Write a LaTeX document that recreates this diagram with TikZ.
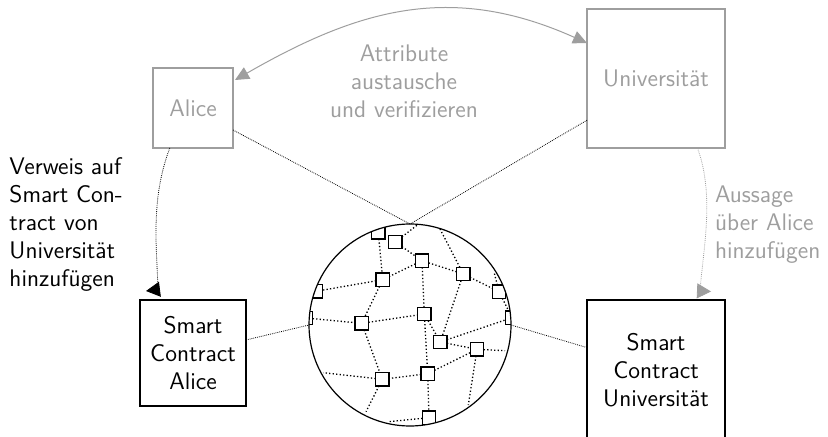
\documentclass[tikz,border=0pt]{standalone}
\usetikzlibrary{arrows.meta,calc}
\colorlet{muted}{black!38}
\begin{document}
\begin{tikzpicture}[x=0.5pt,y=-0.5pt,
  every node/.style={font=\sffamily\fontsize{12}{14}\selectfont},
  party/.style={draw=muted, text=muted, line width=0.6pt, inner sep=0pt, outer sep=0pt},
  contract/.style={draw=black, line width=0.6pt, inner sep=0pt, outer sep=0pt, align=center},
  peer/.style={draw=black, fill=white, line width=0.65pt, minimum size=6.67pt, inner sep=0pt, outer sep=0pt},
  peerlink/.style={line width=0.65pt, dash pattern=on 0.65pt off 1.1pt},
  tie/.style={line width=0.4pt, dash pattern=on 0.4pt off 0.55pt},
  note/.style={inner sep=0pt, outer sep=0pt, align=left},
  tip/.style={-{Triangle[length=7pt,width=7.5pt]}},
  bothtips/.style={{Triangle[length=7pt,width=6.5pt]}-{Triangle[length=7pt,width=6.5pt]}}
]
\useasboundingbox (0,0) rectangle (828,437);

% parties and their contracts
\node[party, minimum width=40pt, minimum height=40pt] (alice) at (193,108) {Alice};
\node[party, minimum width=69pt, minimum height=69.5pt] (uni) at (656,78.5) {Universität};
\node[contract, minimum width=53pt, minimum height=53pt] (sca) at (193,353) {Smart\\Contract\\Alice};
\node[contract, minimum width=69pt, minimum height=70pt] (scu) at (656,370) {Smart\\Contract\\Universität};

% peer-to-peer network inside the ledger
\begin{scope}
  \clip (410,325) circle [radius=101];
  \node[peer] (n1)  at (378.3,232.3) {};
  \node[peer] (n2)  at (395.3,242)   {};
  \node[peer] (n3)  at (422,260.7)   {};
  \node[peer] (n4)  at (463.3,274)   {};
  \node[peer] (n5)  at (382.7,279.7) {};
  \node[peer] (n6)  at (316,291.3)   {};
  \node[peer] (n7)  at (499,291.7)   {};
  \node[peer] (n8)  at (424.3,314)   {};
  \node[peer] (n9)  at (306,318)     {};
  \node[peer] (n10) at (512,317.7)   {};
  \node[peer] (n11) at (361.7,323.3) {};
  \node[peer] (n12) at (440.3,342)   {};
  \node[peer] (n13) at (477,349.3)   {};
  \node[peer] (n14) at (382.3,379.3) {};
  \node[peer] (n15) at (427.7,373.7) {};
  \node[peer] (n16) at (429,417.7)   {};
  \coordinate (e1) at (418,224.5);
  \coordinate (e2) at (440,229);
  \coordinate (e3) at (494,272);
  \coordinate (e4) at (505,350.7);
  \coordinate (e5) at (468.3,405);
  \coordinate (e6) at (323.3,372.7);
  \coordinate (e7) at (366,411.7);
  \coordinate (e8) at (388.3,421.7);
  \draw[peerlink]
    (n1) -- (n5)   (n2) -- (e1)   (n2) -- (n3)   (n3) -- (n4)
    (n3) -- (n5)   (n3) -- (n8)   (n4) -- (e2)   (n4) -- (n7)
    (n4) -- (n12)  (n5) -- (n6)   (n5) -- (n11)  (n7) -- (e3)
    (n7) -- (n10)  (n9) -- (n11)  (n11) -- (n8)  (n11) -- (n14)
    (n8) -- (n12)  (n8) -- (n15)  (n12) -- (n10) (n12) -- (n13)
    (n13) -- (e4)  (n13) -- (e5)  (n15) -- (n13) (n15) -- (n14)
    (n15) -- (n16) (n14) -- (e6)  (n14) -- (e7)  (n16) -- (e8);
\end{scope}
\node[circle, draw=black, line width=0.6pt, minimum size=101pt, inner sep=0pt, outer sep=0pt] (net) at (410,325) {};

% links between the parties and the ledger
\draw[tie] ($(alice.north east)!0.775!(alice.south east)$) -- (net.north);
\draw[tie] ($(uni.north west)!0.8!(uni.south west)$) -- (net.north);
\draw[tie] ($(sca.north east)!0.377!(sca.south east)$) -- (net.west);
\draw[tie] ($(scu.north west)!0.34!(scu.south west)$) -- (net.east);

% attribute exchange
\draw[muted, line width=0.5pt, bothtips]
  ($(alice.north east)!0.15!(alice.south east)+(2,0)$) .. controls (357,10) and (450,-18.5) ..
  ($(uni.north west)!0.245!(uni.south west)$);
\node[note, text=muted, align=center] (xchg) at (404,81.6) {Attribute\\austausche\\und verifizieren};

% reference from Alice's contract
\coordinate (kneeL) at (158,289.5);
\coordinate (tipL) at (146,291);
\draw[tie, black, tip]
  ($(alice.south west)!0.21!(alice.south east)$) .. controls (150,200) and (157,250) .. (kneeL) -- (tipL);
\node[note, anchor=west] (refnote) at (9.5,224.3)
  {Verweis auf\\Smart Con-\\tract von\\Universität\\hinzufügen};

% statement in the university's contract
\coordinate (kneeR) at (700,291);
\coordinate (tipR) at (711,291.5);
\draw[tie, muted, tip]
  ($(uni.south west)!0.8!(uni.south east)$) .. controls (715,195) and (703,250) .. (kneeR) -- (tipR);
\node[note, anchor=west, text=muted] (stmt) at (715,224.5)
  {Aussage\\über Alice\\hinzufügen};
\end{tikzpicture}
\end{document}
